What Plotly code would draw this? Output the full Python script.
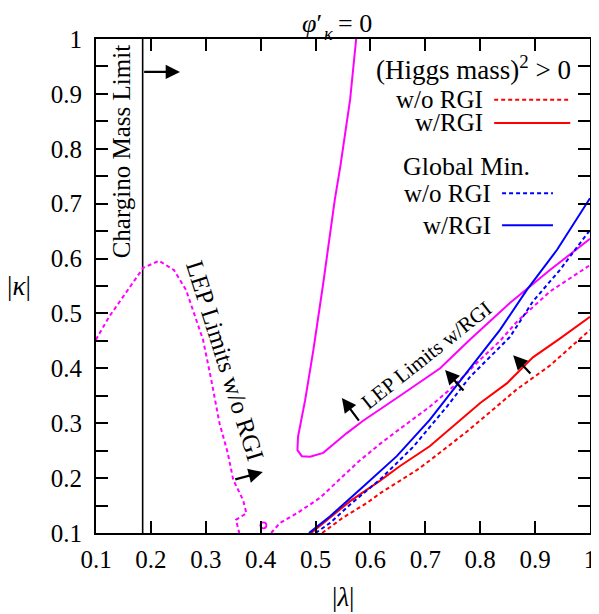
import plotly.graph_objects as go

# LEP limits (magenta)
lep_rgi_lam = [0.574, 0.563, 0.545, 0.535, 0.514, 0.496, 0.481, 0.468, 0.467, 0.475, 0.49, 0.514,
               0.557, 0.586, 0.654, 0.727, 0.781, 0.854, 0.927, 1.0]
lep_rgi_kap = [1.0, 0.89, 0.767, 0.707, 0.555, 0.433, 0.342, 0.275, 0.251, 0.240, 0.239, 0.246,
               0.282, 0.304, 0.35, 0.40, 0.452, 0.519, 0.579, 0.636]

lep_nrgi_left_lam = [0.1, 0.103, 0.124, 0.149, 0.186, 0.215, 0.242, 0.264, 0.277, 0.295, 0.31,
                     0.325, 0.34, 0.35, 0.368, 0.374, 0.355, 0.361]
lep_nrgi_left_kap = [0.452, 0.458, 0.494, 0.53, 0.583, 0.596, 0.579, 0.543, 0.506, 0.452, 0.379,
                     0.30, 0.246, 0.197, 0.16, 0.136, 0.124, 0.1]
lep_nrgi_right_lam = [0.419, 0.435, 0.466, 0.508, 0.577, 0.617, 0.654, 0.708, 0.75, 0.794, 0.836,
                      0.867, 0.927, 1.0]
lep_nrgi_right_kap = [0.1, 0.118, 0.136, 0.164, 0.229, 0.262, 0.29, 0.33, 0.366, 0.41, 0.45,
                      0.485, 0.54, 0.588]
lep_island_lam = [0.405]
lep_island_kap = [0.114]

# Global minimum (blue)
gm_rgi_lam = [0.488, 0.526, 0.586, 0.648, 0.708, 0.769, 0.836, 0.885, 0.94, 1.0]
gm_rgi_kap = [0.1, 0.13, 0.184, 0.24, 0.306, 0.385, 0.47, 0.543, 0.616, 0.71]
gm_nrgi_lam = [0.50, 0.526, 0.563, 0.617, 0.678, 0.739, 0.781, 0.854, 0.896, 0.945, 1.0]
gm_nrgi_kap = [0.1, 0.118, 0.152, 0.197, 0.257, 0.33, 0.384, 0.457, 0.522, 0.579, 0.652]

# (Higgs mass)^2 > 0 (red)
hm_rgi_lam = [0.492, 0.526, 0.563, 0.617, 0.654, 0.708, 0.745, 0.80, 0.849, 0.896, 0.945, 1.0]
hm_rgi_kap = [0.1, 0.128, 0.158, 0.195, 0.222, 0.258, 0.29, 0.337, 0.373, 0.42, 0.454, 0.494]
hm_nrgi_lam = [0.512, 0.55, 0.594, 0.617, 0.685, 0.708, 0.776, 0.80, 0.867, 0.927, 1.0]
hm_nrgi_kap = [0.1, 0.128, 0.155, 0.172, 0.215, 0.232, 0.285, 0.305, 0.362, 0.405, 0.47]

# Chargino mass limit
chargino_lam = [0.185, 0.185]
chargino_kap = [0.1, 1.0]

# arrows: (tail lam, tail kap, head lam, head kap)
arrows = [
    (0.185, 0.94, 0.253, 0.94),
    (0.351, 0.197, 0.404, 0.211),
    (0.581, 0.302, 0.548, 0.346),
    (0.772, 0.357, 0.736, 0.397),
    (0.894, 0.388, 0.860, 0.424),
]

tick_vals = [round(0.1 + 0.05 * i, 2) for i in range(19)]
y_tick_text = [("1" if v == 1.0 else f"{v:.1f}") if i % 2 == 0 else "" for i, v in enumerate(tick_vals)]
x_tick_vals = [round(0.1 + 0.1 * i, 1) for i in range(10)]
x_tick_text = ["1" if v == 1.0 else f"{v:.1f}" for v in x_tick_vals]

SERIF = "Liberation Serif"
MAG = "#ff00ff"
RED = "#ff0000"
BLUE = "#0000ff"
DOT = "4px,3px"

fig = go.Figure()


def add_line(x, y, color, dash="solid", width=2):
    fig.add_trace(go.Scatter(x=x, y=y, mode="lines", showlegend=False, hoverinfo="skip",
                             line=dict(color=color, width=width, dash=dash)))


def add_text(x, y, txt, size, xanchor="center", yanchor="middle", ref="paper", angle=0):
    fig.add_annotation(x=x, y=y, xref=ref, yref=ref if ref == "paper" else "y",
                       xanchor=xanchor, yanchor=yanchor, text=txt, showarrow=False,
                       textangle=angle, font=dict(family=SERIF, size=size, color="black"))


add_line(chargino_lam, chargino_kap, "black", width=1.6)
add_line(lep_nrgi_left_lam, lep_nrgi_left_kap, MAG, DOT)
add_line(lep_nrgi_right_lam, lep_nrgi_right_kap, MAG, DOT)
add_line(lep_rgi_lam, lep_rgi_kap, MAG)
add_line(hm_nrgi_lam, hm_nrgi_kap, RED, DOT)
add_line(hm_rgi_lam, hm_rgi_kap, RED)
add_line(gm_nrgi_lam, gm_nrgi_kap, BLUE, DOT)
add_line(gm_rgi_lam, gm_rgi_kap, BLUE)
fig.add_trace(go.Scatter(x=lep_island_lam, y=lep_island_kap, mode="markers", showlegend=False,
                         hoverinfo="skip",
                         marker=dict(symbol="circle-open", size=6, color=MAG, line=dict(width=1.8))))

for x0, y0, x1, y1 in arrows:
    fig.add_annotation(x=x1, y=y1, ax=x0, ay=y0, xref="x", yref="y", axref="x", ayref="y",
                       text="", showarrow=True, arrowhead=2, arrowsize=1.3, arrowwidth=2.2,
                       arrowcolor="black")

# labels inside the plot (data coordinates)
add_text(0.147, 0.795, "Chargino Mass Limit", 25, ref="x", angle=-90)
add_text(0.335, 0.414, "LEP Limits w/o RGI", 25, ref="x", angle=72.5)
add_text(0.703, 0.424, "LEP Limits w/RGI", 21, ref="x", angle=-38.4)

# legend block
legend_texts = [
    (0.966, 0.941, "right", "(Higgs mass)<sup>2</sup> > 0", 27),
    (0.787, 0.877, "right", "w/o RGI", 25),
    (0.787, 0.830, "right", "w/RGI", 25),
    (0.749, 0.741, "center", "Global Min.", 26),
    (0.803, 0.688, "right", "w/o RGI", 25),
    (0.803, 0.623, "right", "w/RGI", 25),
]
for xx, yy, xa, txt, sz in legend_texts:
    add_text(xx, yy, txt, sz, xanchor=xa)
for (xa, xb, yy, col, dash) in [(0.806, 0.960, 0.877, RED, "dash"),
                                (0.806, 0.960, 0.830, RED, "solid"),
                                (0.822, 0.925, 0.688, BLUE, "dash"),
                                (0.822, 0.925, 0.623, BLUE, "solid")]:
    fig.add_shape(type="line", xref="paper", yref="paper", x0=xa, x1=xb, y0=yy, y1=yy,
                  line=dict(color=col, width=2, dash=DOT if dash == "dash" else "solid"))

# title: phi' with kappa subscript
add_text(0.4615, 1.031, "<i>φ</i>′", 26, xanchor="right")
add_text(0.458, 1.010, "<i>κ</i>", 18, xanchor="left")
add_text(0.485, 1.031, "= 0", 26, xanchor="left")

# axis titles
add_text(0.5, -0.129, "|<i>λ</i>|", 27)
add_text(-0.155, 0.5, "|<i>κ</i>|", 27)

axis_common = dict(range=[0.1, 1.0], showgrid=False, zeroline=False, showline=True,
                   linecolor="black", linewidth=2, mirror="ticks", ticks="inside",
                   ticklen=12, tickwidth=1.5, tickcolor="black", automargin=False,
                   tickfont=dict(family=SERIF, size=25, color="black"))

fig.update_xaxes(tickvals=x_tick_vals, ticktext=x_tick_text, ticklabelstandoff=3, **axis_common)
fig.update_yaxes(tickvals=tick_vals, ticktext=y_tick_text, ticklabelstandoff=7, **axis_common)

# the page body adds an 8px offset, so the figure is 8px smaller than the window
fig.update_layout(width=591, height=606, margin=dict(l=88, r=9, t=31, b=81),
                  plot_bgcolor="white", paper_bgcolor="white")

fig.write_html("out.html")
